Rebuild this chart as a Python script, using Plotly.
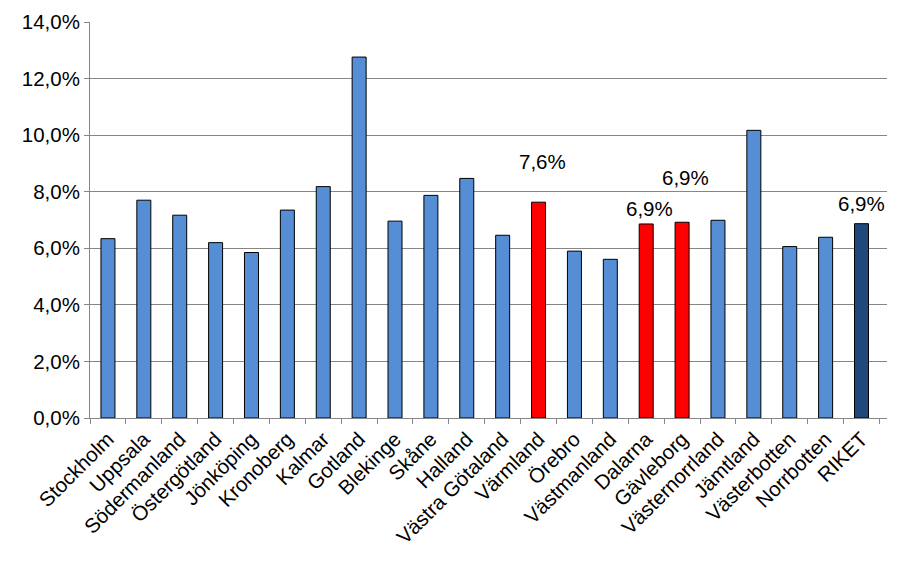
import plotly.graph_objects as go

categories = ["Stockholm", "Uppsala", "Södermanland", "Östergötland", "Jönköping",
              "Kronoberg", "Kalmar", "Gotland", "Blekinge", "Skåne", "Halland",
              "Västra Götaland", "Värmland", "Örebro", "Västmanland", "Dalarna",
              "Gävleborg", "Västernorrland", "Jämtland", "Västerbotten", "Norrbotten", "RIKET"]
values_pct = [6.34, 7.70, 7.17, 6.20, 5.85, 7.35, 8.18, 12.76, 6.96, 7.87, 8.47,
              6.46, 7.63, 5.90, 5.61, 6.86, 6.92, 6.99, 10.17, 6.06, 6.39, 6.87]
highlighted = ["Värmland", "Dalarna", "Gävleborg"]
total_label = "RIKET"
labelled = ["Värmland", "Dalarna", "Gävleborg", "RIKET"]
label_offsets = [1.43, 0.54, 1.58, 0.70]  # layout: label height above bar, in % points
label_xshift = [4, 3, 3, 0]               # layout: horizontal nudge in px

BLUE = "#558ED5"
RED = "#FF0000"
NAVY = "#1F497D"

colors = []
for c in categories:
    if c in highlighted:
        colors.append(RED)
    elif c == total_label:
        colors.append(NAVY)
    else:
        colors.append(BLUE)

values = [v / 100 for v in values_pct]

fig = go.Figure(go.Bar(
    x=categories, y=values,
    marker=dict(color=colors, line=dict(color="black", width=1)),
    width=0.39,
))

font_family = "Liberation Sans, Arial, sans-serif"
FS = 20.5
annotations = []
for name, off, xs in zip(labelled, label_offsets, label_xshift):
    v = values_pct[categories.index(name)]
    annotations.append(dict(
        x=name, y=(v + off) / 100, xref="x", yref="y",
        text=f"{v:.1f}".replace(".", ",") + "%",
        showarrow=False, yanchor="middle", xshift=xs,
        font=dict(family=font_family, size=FS, color="black"),
    ))

fig.update_layout(
    width=909, height=567,
    margin=dict(l=82, r=30, t=14, b=157, autoexpand=False),
    paper_bgcolor="white", plot_bgcolor="white",
    separators=", ",
    showlegend=False,
    annotations=annotations,
    font=dict(family=font_family, size=FS, color="black"),
)
fig.update_yaxes(
    range=[0, 0.14], dtick=0.02, tickformat=".1%",
    showgrid=True, gridcolor="#868686", gridwidth=1,
    showline=True, linecolor="#868686", linewidth=1,
    ticks="outside", ticklen=5, tickcolor="#868686",
    zeroline=False, automargin=False,
    tickfont=dict(size=FS),
)
fig.update_xaxes(
    tickangle=-45, tickson="boundaries",
    ticks="outside", ticklen=5, tickcolor="#868686",
    showline=True, linecolor="#868686", linewidth=1,
    showgrid=False, automargin=False,
    tickfont=dict(size=FS),
)

fig.write_html("out.html")
